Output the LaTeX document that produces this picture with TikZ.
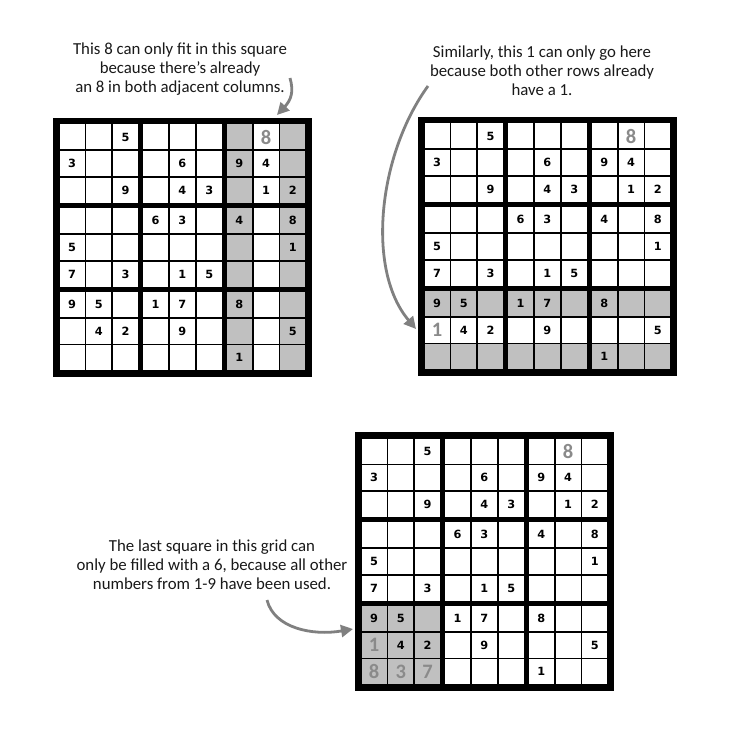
\documentclass[tikz,border=0pt]{standalone}
\usepackage{fontspec}
\setmainfont{Carlito}
\newfontfamily\digfont{DejaVu Sans}
\newfontfamily\bigfont{Carlito}
\usetikzlibrary{arrows.meta}
\definecolor{shadegray}{RGB}{192,192,192}
\definecolor{biggray}{RGB}{138,138,138}
\definecolor{arrowgray}{RGB}{128,128,128}
\definecolor{txtcol}{RGB}{25,25,25}
\tikzset{
  digit/.style={inner sep=0pt, font=\digfont\bfseries\fontsize{11.3}{12}\selectfont, text=black},
  bigdigit/.style={inner sep=0pt, font=\bigfont\bfseries\fontsize{20.5}{22}\selectfont, text=biggray},
  note/.style={align=center, inner sep=0pt, text=txtcol, font=\fontsize{16.8}{18.8}\selectfont},
  hint/.style={draw=arrowgray, line width=2.8pt, -{Triangle[length=12pt,width=12pt]}},
}
% base grid: #1 X0, #2 Y0
\newcommand\SudBase[2]{%
  \fill[black] (#1,#2) rectangle ++(259,259);
  \foreach \r in {0,...,8}{\foreach \c in {0,...,8}{%
    \pgfmathsetmacro\xa{#1+6.5+26.8*\c+3.2*floor(\c/3)}%
    \pgfmathsetmacro\ya{#2+6.5+26.8*\r+3.2*floor(\r/3)}%
    \fill[white] (\xa,\ya) rectangle ++(25,25);
  }}%
}
% shaded cells: #3 list of r/c
\newcommand\SudShade[3]{%
  \foreach \r/\c in {#3}{%
    \pgfmathsetmacro\xa{#1+6.5+26.8*\c+3.2*floor(\c/3)}%
    \pgfmathsetmacro\ya{#2+6.5+26.8*\r+3.2*floor(\r/3)}%
    \fill[shadegray] (\xa,\ya) rectangle ++(25,25);
  }%
}
% digits: #3 name prefix, #4 style, #5 list r/c/d
\newcommand\SudDigits[5]{%
  \foreach \r/\c/\d in {#5}{%
    \pgfmathsetmacro\xa{#1+6.5+26.8*\c+3.2*floor(\c/3)+12.5}%
    \pgfmathsetmacro\ya{#2+6.5+26.8*\r+3.2*floor(\r/3)+12.5}%
    \node[#4] (#3-\r-\c) at (\xa,\ya) {\d};
  }%
}
\newcommand\GivenList{0/2/5, 1/0/3, 1/4/6, 1/6/9, 1/7/4, 2/2/9, 2/4/4, 2/5/3, 2/7/1, 2/8/2, 3/3/6, 3/4/3, 3/6/4, 3/8/8, 4/0/5, 4/8/1, 5/0/7, 5/2/3, 5/4/1, 5/5/5, 6/0/9, 6/1/5, 6/3/1, 6/4/7, 6/6/8, 7/1/4, 7/2/2, 7/4/9, 7/8/5, 8/6/1}
\newcommand\SudGiven[3]{%
  \edef\SudTmp{\noexpand\SudDigits{#1}{#2}{#3}{digit}{\GivenList}}\SudTmp}
\begin{document}
\begin{tikzpicture}[x=1pt,y=-1pt]
\useasboundingbox[fill=white] (0,0) rectangle (728,743);
% grid 1
\SudBase{53}{118}
\SudShade{53}{118}{0/6,1/6,2/6,3/6,4/6,5/6,6/6,7/6,8/6,0/8,1/8,2/8,3/8,4/8,5/8,6/8,7/8,8/8}
\SudGiven{53}{118}{ga}
\SudDigits{53}{118}{gab}{bigdigit}{0/7/8}
% grid 2
\SudBase{418}{117}
\SudShade{418}{117}{6/0,6/1,6/2,6/3,6/4,6/5,6/6,6/7,6/8,8/0,8/1,8/2,8/3,8/4,8/5,8/6,8/7,8/8}
\SudGiven{418}{117}{gb}
\SudDigits{418}{117}{gbb}{bigdigit}{0/7/8,7/0/1}
% grid 3
\SudBase{355}{432}
\SudShade{355}{432}{6/0,6/1,6/2,7/0,7/1,7/2,8/0,8/1,8/2}
\SudGiven{355}{432}{gc}
\SudDigits{355}{432}{gcb}{bigdigit}{0/7/8,7/0/1,8/0/8,8/1/3,8/2/7}
% notes
\node[note] (t1) at (180,69) {This 8 can only fit in this square\\because there’s already\\an 8 in both adjacent columns.};
\node[note] (t2) at (542,70.5) {Similarly, this 1 can only go here\\because both other rows already\\have a 1.};
\node[note] (t3) at (212,564.5) {The last square in this grid can\\only be filled with a 6, because all other\\numbers from 1-9 have been used.};
% arrows
\coordinate (a1s) at (290,78);
\coordinate (a1e) at (277,115);
\coordinate (a2s) at (428,86);
\coordinate (a2e) at (416,329);
\coordinate (a3s) at (267,600);
\coordinate (a3e) at (353,629);
\draw[hint] (a1s) .. controls (294,92) and (291,100) .. (a1e);
\draw[hint] (a2s) .. controls (378,155) and (366,270) .. (a2e);
\draw[hint] (a3s) .. controls (274,628) and (312,636) .. (a3e);
\end{tikzpicture}
\end{document}
